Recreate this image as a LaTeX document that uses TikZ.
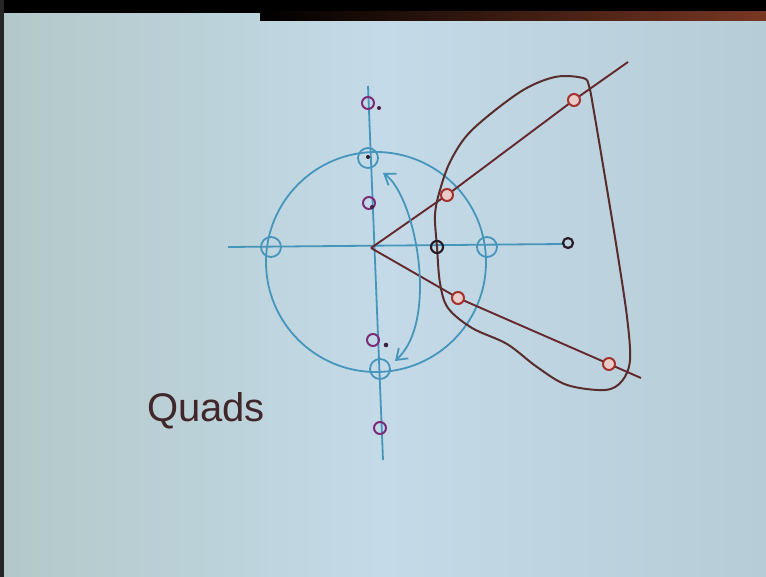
\documentclass[tikz,border=0pt]{standalone}
\usepackage{fontspec}
\newfontfamily\handfont{Liberation Sans}
\usetikzlibrary{arrows.meta}
\definecolor{bg}{RGB}{196,218,232}
\definecolor{bgl}{RGB}{178,200,200}
\definecolor{bgr}{RGB}{182,204,214}
\definecolor{axblue}{RGB}{70,150,188}
\definecolor{curvebrown}{RGB}{90,45,45}
\definecolor{raybrown}{RGB}{100,40,45}
\definecolor{redmark}{RGB}{165,50,45}
\definecolor{purplemark}{RGB}{125,45,120}
\definecolor{darkmark}{RGB}{40,28,40}
\definecolor{bandbrown}{RGB}{120,55,35}
\definecolor{quadcol}{RGB}{65,38,42}
\tikzset{
  bluemark/.style={circle, draw=axblue, line width=1.8pt, minimum size=20pt, inner sep=0pt},
  pmark/.style={circle, draw=purplemark, line width=2pt, minimum size=12pt, inner sep=0pt},
  rmark/.style={circle, draw=redmark, line width=2pt, minimum size=12pt, inner sep=0pt, fill=redmark!25},
  kmark/.style={circle, draw=darkmark, line width=2.2pt, minimum size=12pt, inner sep=0pt},
  axisline/.style={draw=axblue, line width=1.8pt},
  ray/.style={draw=raybrown, line width=1.9pt},
  pdot/.style={fill=darkmark!70!purplemark},
}
\begin{document}
\begin{tikzpicture}[x=1pt,y=-1pt]
\useasboundingbox (0,0) rectangle (766,577);
\shade[left color=bgl, right color=bgr, middle color=bg] (0,0) rectangle (766,577);
\fill[black] (0,0) rectangle (766,13);
\shade[left color=black, right color=bandbrown] (260,12) rectangle (766,21);
\fill[black!85] (0,0) rectangle (4,577);

% positions
\coordinate (O) at (371,248);
\coordinate (vt) at (368,86);
\coordinate (vb) at (383,460);
\coordinate (hl) at (228,247);
\coordinate (hr) at (563,244);
\coordinate (ue) at (628,62);
\coordinate (le) at (641,378);
\coordinate (pr1) at (447,195);
\coordinate (pr2) at (574,100);
\coordinate (pr3) at (458,298);
\coordinate (pr4) at (609,364);
\coordinate (ctr) at (376,262);
\coordinate (at) at (383,173);
\coordinate (ab) at (395,361);

% axes and unit circle
\draw[axisline] (vt) -- (vb);
\draw[axisline] (hl) -- (hr);
\draw[axisline] (ctr) circle [radius=110pt];

% rays
\draw[ray] (O) -- (pr1) -- (pr2) -- (ue);
\draw[ray] (O) -- (pr3) -- (pr4) -- (le);

% region outline
\draw[curvebrown, line width=2pt] plot[smooth cycle, tension=0.55] coordinates {
 (583,78) (555,77) (520,92) (472,130) (451,160) (440,190) (435,215) (437,247)
 (440,283) (448,308) (472,328) (507,344) (537,367) (567,385) (605,390) (622,381)
 (630,360) (627,317) (617,250) (606,183) (594,112) (589,86)};

% double arrow
\draw[axisline, {Straight Barb[length=10pt,width=14pt]}-{Straight Barb[length=10pt,width=14pt]}]
  (at) .. controls (415,195) and (440,320) .. (ab);

% blue markers
\node[bluemark] (bt) at (368,158) {};
\node[bluemark] (bb) at (380,369) {};
\node[bluemark] (bl) at (271,247) {};
\node[bluemark] (br) at (487,247) {};
\fill[darkmark] (368,157) circle (2pt);

% purple markers
\node[pmark] (p1) at (368,103) {};
\node[pmark] (p2) at (369,203) {};
\node[pmark] (p3) at (373,340) {};
\node[pmark] (p4) at (380,428) {};
\fill[pdot] (379,108) circle (2pt);
\fill[pdot] (372,207) circle (2pt);
\fill[pdot] (386,345) circle (2.3pt);

% black markers
\node[kmark] (k1) at (437,247) {};
\node[kmark, minimum size=10pt] (k2) at (568,243) {};

% red markers
\node[rmark] (r1) at (pr1) {};
\node[rmark] (r2) at (pr2) {};
\node[rmark] (r3) at (pr3) {};
\node[rmark] (r4) at (pr4) {};

\node[text=quadcol, font=\handfont\fontsize{40}{40}\selectfont] (q) at (206,411) {Quads};
\end{tikzpicture}
\end{document}
